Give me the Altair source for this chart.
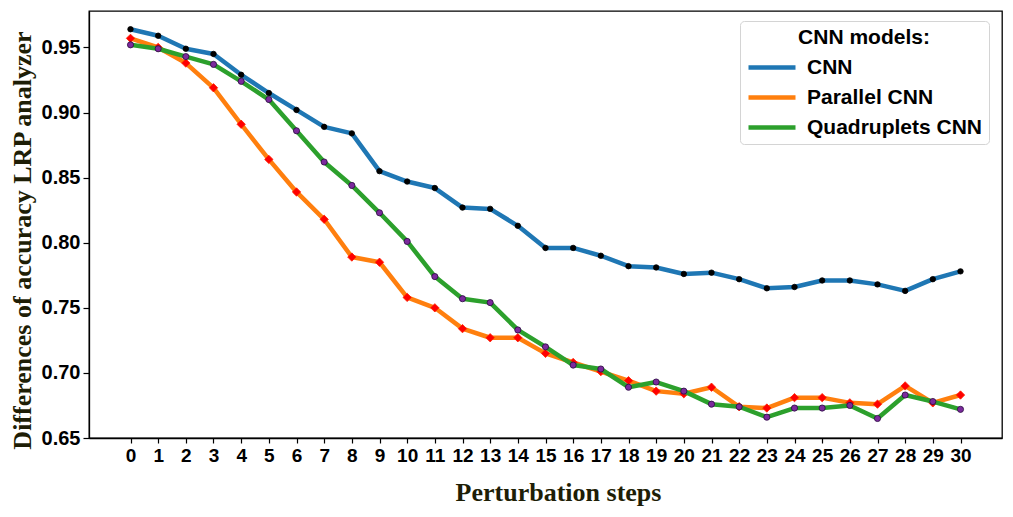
import altair as alt
import pandas as pd

steps = list(range(31))
cnn = [0.964, 0.959, 0.949, 0.945, 0.929, 0.915, 0.902, 0.889, 0.884, 0.855,
       0.847, 0.842, 0.827, 0.826, 0.813, 0.796, 0.796, 0.790, 0.782, 0.781,
       0.776, 0.777, 0.772, 0.765, 0.766, 0.771, 0.771, 0.768, 0.763, 0.772,
       0.778]
parallel = [0.957, 0.950, 0.938, 0.919, 0.891, 0.864, 0.839, 0.818, 0.789, 0.785,
            0.758, 0.750, 0.734, 0.727, 0.727, 0.715, 0.708, 0.701, 0.694, 0.686,
            0.684, 0.689, 0.674, 0.673, 0.681, 0.681, 0.677, 0.676, 0.690, 0.677,
            0.683]
quad = [0.952, 0.949, 0.943, 0.937, 0.924, 0.910, 0.886, 0.862, 0.844, 0.823,
        0.801, 0.774, 0.757, 0.754, 0.733, 0.720, 0.706, 0.703, 0.689, 0.693,
        0.686, 0.676, 0.674, 0.666, 0.673, 0.673, 0.675, 0.665, 0.683, 0.678,
        0.672]
series_names = ["CNN", "Parallel CNN", "Quadruplets CNN"]
y_ticks = [0.65, 0.70, 0.75, 0.80, 0.85, 0.90, 0.95]

# styles
line_colors = ["#1f77b4", "#ff7f0e", "#2ca02c"]
marker_fills = ["#000000", "#ff0000", "#7b2a9c"]
marker_strokes = ["#000000", "#ff2000", "#2a0a40"]
marker_shapes = ["circle", "diamond", "circle"]
marker_sizes = [30, 70, 38]

df = pd.DataFrame({
    "step": steps * 3,
    "value": cnn + parallel + quad,
    "model": [n for n in series_names for _ in steps],
})

title_color = "#1e1e06"

x_enc = alt.X(
    "step:Q",
    scale=alt.Scale(domain=[-1.5, 31.5], nice=False, zero=False),
    axis=alt.Axis(
        values=steps, title="Perturbation steps", grid=False,
        domain=True, domainColor="black", domainWidth=1.3,
        labelFont="Liberation Sans", labelFontWeight="bold", labelFontSize=19,
        labelColor="black", tickColor="black", tickSize=5, tickWidth=1.2,
        labelPadding=3, labelFlush=False,
        titleFont="Liberation Serif", titleFontWeight="bold", titleFontSize=26,
        titleColor=title_color, titleX=469, titleY=62, titleAlign="center",
        titleBaseline="alphabetic",
    ),
)
y_enc = alt.Y(
    "value:Q",
    scale=alt.Scale(domain=[0.65, 0.978], nice=False, zero=False),
    axis=alt.Axis(
        values=y_ticks, format=".2f", title="Differences of accuracy LRP analyzer",
        grid=False, domain=True, domainColor="black", domainWidth=1.3,
        labelFont="Liberation Sans", labelFontWeight="bold", labelFontSize=20,
        labelColor="black", tickColor="black", tickSize=6, tickWidth=1.2,
        labelPadding=3,
        titleFont="Liberation Serif", titleFontWeight="bold", titleFontSize=26,
        titleColor=title_color, titleX=-59, titleY=229, titleAngle=270,
        titleAlign="center", titleBaseline="alphabetic",
    ),
)
stroke_enc = alt.Stroke(
    "model:N",
    scale=alt.Scale(domain=series_names, range=line_colors),
    legend=alt.Legend(
        title="CNN models:", orient="none", legendX=651, legendY=10,
        titleAnchor="middle", titleFont="Liberation Sans", titleFontSize=21,
        titleFontWeight="bold", titleColor="black", titlePadding=7,
        labelFont="Liberation Sans", labelFontSize=21, labelFontWeight="bold",
        labelColor="black", labelOffset=36, labelLimit=400,
        symbolType="M-1,0H3.7", symbolSize=400, symbolStrokeWidth=4.5,
        padding=6, rowPadding=7,
        fillColor="white", strokeColor="#d4d4d4", cornerRadius=4,
    ),
)

layers = []
for i, name in enumerate(series_names):
    base = alt.Chart(df).transform_filter(alt.datum.model == name)
    layers.append(
        base.mark_line(strokeWidth=4.5, strokeJoin="round", strokeCap="round")
        .encode(x=x_enc, y=y_enc, stroke=stroke_enc)
    )
    layers.append(
        base.mark_point(
            filled=True, opacity=1, fill=marker_fills[i], stroke=marker_strokes[i],
            strokeWidth=0.8, shape=marker_shapes[i], size=marker_sizes[i],
        ).encode(x=x_enc, y=y_enc)
    )

chart = (
    alt.layer(*layers)
    .properties(
        width=913, height=427, background="white",
        padding={"left": 81, "top": 3, "right": 2, "bottom": 70},
        autosize=alt.AutoSizeParams(type="none"),
    )
    .configure_view(stroke="black", strokeWidth=1.3)
)

chart.save("out.html", embed_options={"renderer": "svg", "actions": False})
